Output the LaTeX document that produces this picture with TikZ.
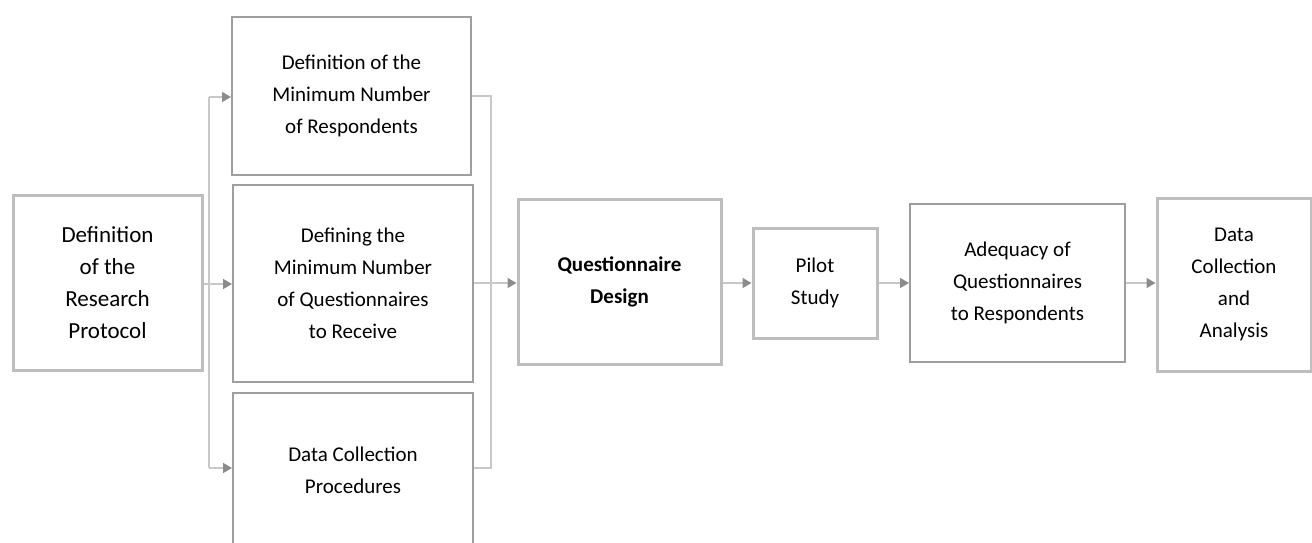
\documentclass[tikz,border=0pt]{standalone}
\usepackage{fontspec}
\setmainfont{Carlito}
\usetikzlibrary{arrows.meta}
\definecolor{lightborder}{HTML}{BEBEBE}
\definecolor{darkborder}{HTML}{9E9E9E}
\definecolor{linegray}{HTML}{C8C8C8}
\definecolor{tipgray}{HTML}{8C8C8C}
\tikzset{
  basebox/.style={rectangle, inner sep=0pt, align=center, fill=white,
    font=\fontsize{21}{32}\selectfont},
  lightbox/.style={basebox, draw=lightborder, line width=3pt},
  darkbox/.style={basebox, draw=darkborder, line width=2pt},
  plainline/.style={draw=linegray, line width=1.6pt},
  conn/.style={plainline, -{Triangle[length=9pt,width=10pt,color=tipgray]}},
}
\begin{document}
\begin{tikzpicture}[x=1pt,y=-1pt]
\useasboundingbox[fill=white] (0,0) rectangle (1312,543);

\node[lightbox, minimum width=189pt, minimum height=175pt,
      font=\fontsize{23}{32}\selectfont] (proto) at (107.5,282.5)
  {Definition\\of the\\Research\\Protocol};
\node[darkbox, minimum width=239pt, minimum height=158pt] (resp) at (351.5,96)
  {Definition of the\\Minimum Number\\of Respondents};
\node[darkbox, minimum width=240pt, minimum height=197pt] (quest) at (353,283.5)
  {Defining the\\Minimum Number\\of Questionnaires\\to Receive};
\node[darkbox, minimum width=240pt, minimum height=154pt] (proc) at (353,470)
  {Data Collection\\Procedures};
\node[lightbox, minimum width=203pt, minimum height=165pt,
      font=\bfseries\fontsize{21}{32}\selectfont] (design) at (619.5,281.5)
  {Questionnaire\\Design};
\node[lightbox, minimum width=124pt, minimum height=110pt] (pilot) at (815,283)
  {Pilot\\Study};
\node[darkbox, minimum width=215pt, minimum height=158pt] (adeq) at (1017.5,283)
  {Adequacy of\\Questionnaires\\to Respondents};
\node[lightbox, minimum width=154pt, minimum height=173pt] (data) at (1234,284.5)
  {Data\\Collection\\and\\Analysis};

% branch from the protocol box
\coordinate (bt) at (209,97);
\coordinate (bb) at (209,468);
\coordinate (bm) at (209,284);
\draw[plainline] (bt) -- (bb);
\draw[conn] (bt) -- (bt -| resp.west);
\draw[conn] (bb) -- (bb -| proc.west);
\draw[conn] (proto.east |- bm) -- (bm -| quest.west);

% bracket joining the three boxes
\coordinate (rt) at (491,96);
\coordinate (rb) at (491,468);
\draw[plainline] (rt -| resp.east) -- (rt) -- (rb) -- (rb -| proc.east);
\coordinate (rm) at (491,283);
\draw[conn] (rm -| quest.east) -- (rm -| design.west);

% main chain
\draw[conn] (rm -| design.east) -- (pilot.west);
\draw[conn] (pilot.east) -- (adeq.west);
\draw[conn] (adeq.east) -- (adeq.east -| data.west);
\end{tikzpicture}
\end{document}
